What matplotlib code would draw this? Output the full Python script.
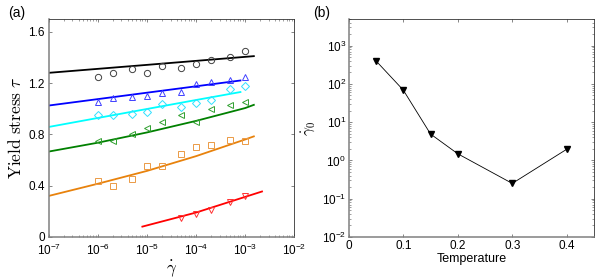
import matplotlib.pyplot as plt
import matplotlib.ticker as mticker

plt.rcParams['font.family'] = ['Liberation Sans', 'DejaVu Sans']
plt.rcParams['mathtext.fontset'] = 'cm'
plt.rcParams['font.size'] = 8.5

# ---- panel (a): yield stress vs strain rate ----
rates = [1e-6, 2e-6, 5e-6, 1e-5, 2e-5, 5e-5, 1e-4, 2e-4, 5e-4, 1e-3]

tau_circ = [1.25, 1.28, 1.31, 1.28, 1.33, 1.32, 1.35, 1.38, 1.40, 1.45]
tau_up = [1.056, 1.087, 1.095, 1.10, 1.124, 1.13, 1.19, 1.21, 1.225, 1.25]
tau_diam = [0.95, 0.95, 0.957, 0.975, 1.04, 1.017, 1.048, 1.064, 1.15, 1.18]
tau_left = [0.75, 0.75, 0.80, 0.85, 0.895, 0.952, 0.897, 1.0, 1.03, 1.056]
tau_sq = [0.434, 0.40, 0.453, 0.554, 0.554, 0.65, 0.70, 0.72, 0.752, 0.747]
rates_down = [5e-5, 1e-4, 2e-4, 5e-4, 1e-3]
tau_down = [0.148, 0.177, 0.21, 0.273, 0.315]

# fitted curves
fit_x_black = [1e-7, 1e-5, 1.5e-3]
fit_y_black = [1.28, 1.342, 1.41]
fit_x_blue = [1e-7, 1e-5, 8e-4]
fit_y_blue = [1.025, 1.125, 1.22]
fit_x_cyan = [1e-7, 1e-6, 1e-5, 1e-4, 8e-4]
fit_y_cyan = [0.858, 0.928, 0.998, 1.068, 1.13]
fit_x_green = [1e-7, 1e-6, 1e-5, 1e-4, 1e-3, 1.5e-3]
fit_y_green = [0.666, 0.735, 0.815, 0.905, 1.005, 1.03]
fit_x_orange = [1e-7, 1e-6, 1e-5, 1e-4, 1e-3, 1.5e-3]
fit_y_orange = [0.32, 0.415, 0.515, 0.63, 0.76, 0.784]
fit_x_red = [8e-6, 1e-4, 2.2e-3]
fit_y_red = [0.08, 0.19, 0.354]

# ---- panel (b): gamma_0 vs temperature ----
temps = [0.05, 0.1, 0.15, 0.2, 0.3, 0.4]
gamma0 = [400, 69, 4.9, 1.49, 0.25, 1.96]

fig = plt.figure(figsize=(6.13, 2.79), dpi=100)
ax1 = fig.add_axes([0.080, 0.151, 0.400, 0.781])
ax2 = fig.add_axes([0.569, 0.151, 0.400, 0.781])

series = [
    (rates, tau_circ, fit_x_black, fit_y_black, 'k', '#404040', 'o'),
    (rates, tau_up, fit_x_blue, fit_y_blue, '#0000ff', '#4040ff', '^'),
    (rates, tau_diam, fit_x_cyan, fit_y_cyan, '#00ffff', '#30e0ff', 'D'),
    (rates, tau_left, fit_x_green, fit_y_green, '#008000', '#30a030', '<'),
    (rates, tau_sq, fit_x_orange, fit_y_orange, '#e8820c', '#eb9a45', 's'),
    (rates_down, tau_down, fit_x_red, fit_y_red, '#ff0000', '#ff3030', 'v'),
]
for xs, ys, fx, fy, lc, mc, mk in series:
    ax1.plot(fx, fy, color=lc, lw=1.3)
    ms = 3.8 if mk in ('D', 's') else 4.5
    ax1.plot(xs, ys, ls='none', marker=mk, mfc='none', mec=mc, mew=0.7, ms=ms)

ax1.set_xscale('log')
ax1.set_xlim(1e-7, 1e-2)
ax1.set_ylim(0, 1.7)
ax1.set_yticks([0, 0.4, 0.8, 1.2, 1.6])
ax1.set_yticklabels(['0', '0.4', '0.8', '1.2', '1.6'])
ax1.xaxis.set_major_locator(mticker.LogLocator(base=10, numticks=10))
ax1.xaxis.set_minor_locator(mticker.LogLocator(base=10, subs=range(2, 10), numticks=20))
ax1.xaxis.set_minor_formatter(mticker.NullFormatter())
ax1.set_xlabel(r'$\dot{\gamma}$', fontsize=12, labelpad=0)
ax1.set_ylabel(r'$\mathrm{Yield\ stress}\ \tau$', fontsize=12.5, labelpad=3)

ax2.plot(temps, gamma0, color='k', lw=0.6, marker='v', ms=5, mfc='k', mec='k')
ax2.set_yscale('log')
ax2.set_xlim(0, 0.45)
ax2.set_ylim(1e-2, 5e3)
ax2.set_xticks([0, 0.1, 0.2, 0.3, 0.4])
ax2.set_xticklabels(['0', '0.1', '0.2', '0.3', '0.4'])
ax2.yaxis.set_major_locator(mticker.LogLocator(base=10, numticks=10))
ax2.yaxis.set_minor_locator(mticker.LogLocator(base=10, subs=range(2, 10), numticks=20))
ax2.yaxis.set_minor_formatter(mticker.NullFormatter())
ax2.set_xlabel('Temperature', fontsize=9, labelpad=1)
ax2.set_ylabel(r'$\dot{\gamma}_0$', fontsize=11, labelpad=3)

for ax in (ax1, ax2):
    ax.tick_params(which='both', direction='in', top=True, right=True,
                   labelsize=8.5, pad=2, color='#555555')
    ax.tick_params(which='major', length=2.5, width=0.5)
    ax.tick_params(which='minor', length=1.5, width=0.4)
    ax.spines['left'].set_color('#808080')
    ax.spines['bottom'].set_color('#808080')
    ax.spines['left'].set_linewidth(1.1)
    ax.spines['bottom'].set_linewidth(1.1)
    ax.spines['top'].set_linewidth(0.6)
    ax.spines['right'].set_linewidth(0.6)
    ax.spines['top'].set_color('#333333')
    ax.spines['right'].set_color('#333333')
ax1.tick_params(axis='x', pad=4.5)
ax1.tick_params(axis='y', pad=3)

fig.text(0.013, 0.955, '(a)', fontsize=10, va='center')
fig.text(0.511, 0.955, '(b)', fontsize=10, va='center')

fig.savefig('out.png', dpi=100)
